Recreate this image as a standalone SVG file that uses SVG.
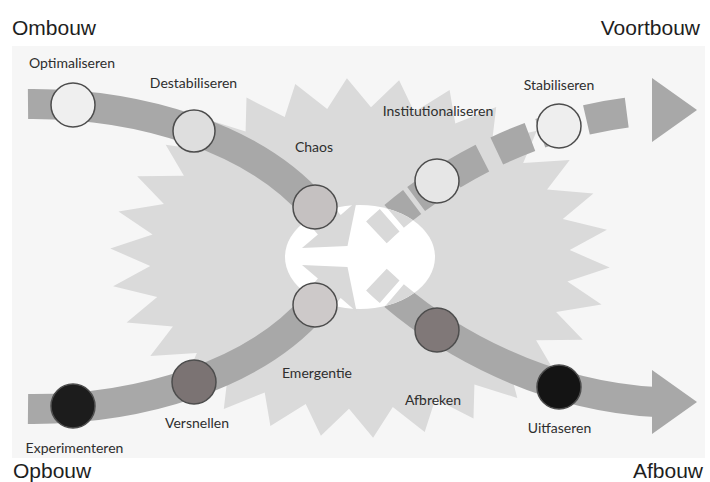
<svg xmlns="http://www.w3.org/2000/svg" xmlns:xlink="http://www.w3.org/1999/xlink" width="710" height="482" viewBox="0 0 710 482">
  <style>
    .title { font-family: "Liberation Sans", Arial, sans-serif; font-size: 21px; fill: #1e1e1e; }
    .label { font-family: Lato, "Open Sans", sans-serif; font-size: 14px; fill: #2e2e2e; text-anchor: middle; }
    .dot { stroke: #4d4d4d; stroke-width: 1.5; }
    .body { fill: none; stroke-width: 30; stroke-linecap: butt; }
  </style>
  <defs>
    <!-- centre lines of the four flows -->
    <path id="p-ombouw" d="M28,104 C140,103 255,138 315,208"/>
    <path id="p-opbouw" d="M28,409 C140,410 255,375 315,305"/>
    <path id="p-voortbouw" d="M376.4,232.4 L380,229 C430,182 530,117 656,110"/>
    <path id="p-afbouw" d="M376.4,279.6 L380,283 C430,330 530,395 656,402"/>
    <clipPath id="core-clip">
      <ellipse cx="360" cy="257" rx="75" ry="52"/>
    </clipPath>
  </defs>

  <!-- page and panel -->
  <rect width="710" height="482" fill="#ffffff"/>
  <rect x="12" y="46" width="693" height="412" fill="#f6f6f6"/>

  <!-- burst behind the flows -->
  <polygon id="burst" fill="#dadada" points="609.7,267.4 567.4,281.6 601.5,304.6 556.1,312.1 582.8,339.7 536.1,340.2 554.3,371.3 508.5,364.8 517.3,397.9 474.4,384.6 473.5,418.4 435.3,399 424.7,431.9 392.8,407.1 373.1,437.7 349,408.8 320.9,435.8 305.7,403.9 270.4,426 264.7,392.5 223.8,409 227.8,375.3 183.2,385.3 196.8,353 150.3,356 172.9,326.6 126.6,322.5 157.2,297.1 113.1,286.2 150.3,265.9 110.3,248.6 152.6,234.4 118.5,211.4 163.9,203.9 137.2,176.3 183.9,175.8 165.7,144.7 211.5,151.2 202.7,118.1 245.6,131.4 246.5,97.6 284.7,117 295.3,84.1 327.2,108.9 346.9,78.3 371,107.2 399.1,80.2 414.3,112.1 449.6,90 455.3,123.5 496.2,107 492.2,140.7 536.8,130.7 523.2,163 569.7,160 547.1,189.4 593.4,193.5 562.8,218.9 606.9,229.8 569.7,250.1"/>

  <!-- flows -->
  <g id="connectors">
    <g stroke="#a8a8a8">
      <use xlink:href="#p-ombouw" class="body"/>
      <use xlink:href="#p-opbouw" class="body"/>
      <use xlink:href="#p-afbouw" class="body" stroke-dasharray="18 6 1000"/>
      <use xlink:href="#p-voortbouw" class="body" stroke-dasharray="18 6 23 5 35 9 34 16 36 11 36 12 41 200"/>
    </g>
    <g fill="#a8a8a8">
      <polygon points="652,370 697,402 652,434"/>
      <polygon points="652,78 697,110 652,142"/>
    </g>
  </g>

  <!-- calm centre of the burst -->
  <ellipse id="core" cx="360" cy="257" rx="75" ry="52" fill="#ffffff"/>

  <!-- flow parts inside the centre, and the two inward heads -->
  <g id="connectors-core">
    <g clip-path="url(#core-clip)" stroke="#d9d9d9">
      <use xlink:href="#p-afbouw" class="body" stroke-dasharray="18 6 1000"/>
      <use xlink:href="#p-voortbouw" class="body" stroke-dasharray="18 6 23 5 35 9 34 16 36 11 36 12 41 200"/>
    </g>
    <g fill="#d9d9d9">
      <polygon points="326.4,198.2 340.7,214.9 356.6,201.3 347.5,246 302,248.1 317.9,234.5 303.6,217.8"/>
      <polygon points="326.4,314.8 340.7,298.1 356.6,311.7 347.5,267 302,264.9 317.9,278.5 303.6,295.2"/>
    </g>
  </g>

  <!-- corner titles -->
  <text class="title" x="12" y="35">Ombouw</text>
  <text class="title" x="700" y="35" text-anchor="end">Voortbouw</text>
  <text class="title" x="13" y="478">Opbouw</text>
  <text class="title" x="703" y="478" text-anchor="end">Afbouw</text>

  <!-- stages -->
  <g id="optimaliseren">
    <circle class="dot" cx="73" cy="105" r="22" fill="#efefef"/>
    <text class="label" x="72" y="68">Optimaliseren</text>
  </g>
  <g id="destabiliseren">
    <circle class="dot" cx="194" cy="131" r="21" fill="#dedede"/>
    <text class="label" x="193.5" y="88">Destabiliseren</text>
  </g>
  <g id="chaos">
    <circle class="dot" cx="315" cy="207" r="22" fill="#c5c1c1"/>
    <text class="label" x="314" y="152">Chaos</text>
  </g>
  <g id="emergentie">
    <circle class="dot" cx="315" cy="305" r="22" fill="#cdc9c9"/>
    <text class="label" x="317" y="378">Emergentie</text>
  </g>
  <g id="versnellen">
    <circle class="dot" cx="194" cy="382" r="22" fill="#7b7373"/>
    <text class="label" x="197" y="428">Versnellen</text>
  </g>
  <g id="experimenteren">
    <circle class="dot" cx="73" cy="406" r="22" fill="#1c1c1c"/>
    <text class="label" x="74.5" y="453">Experimenteren</text>
  </g>
  <g id="institutionaliseren">
    <circle class="dot" cx="437" cy="181" r="22" fill="#e6e6e6"/>
    <text class="label" x="438" y="116">Institutionaliseren</text>
  </g>
  <g id="stabiliseren">
    <circle class="dot" cx="559" cy="126" r="22" fill="#eeeeee"/>
    <text class="label" x="559" y="90">Stabiliseren</text>
  </g>
  <g id="afbreken">
    <circle class="dot" cx="437" cy="330" r="22" fill="#807878"/>
    <text class="label" x="433" y="405">Afbreken</text>
  </g>
  <g id="uitfaseren">
    <circle class="dot" cx="559" cy="387" r="22" fill="#141414"/>
    <text class="label" x="559.5" y="433">Uitfaseren</text>
  </g>
</svg>
